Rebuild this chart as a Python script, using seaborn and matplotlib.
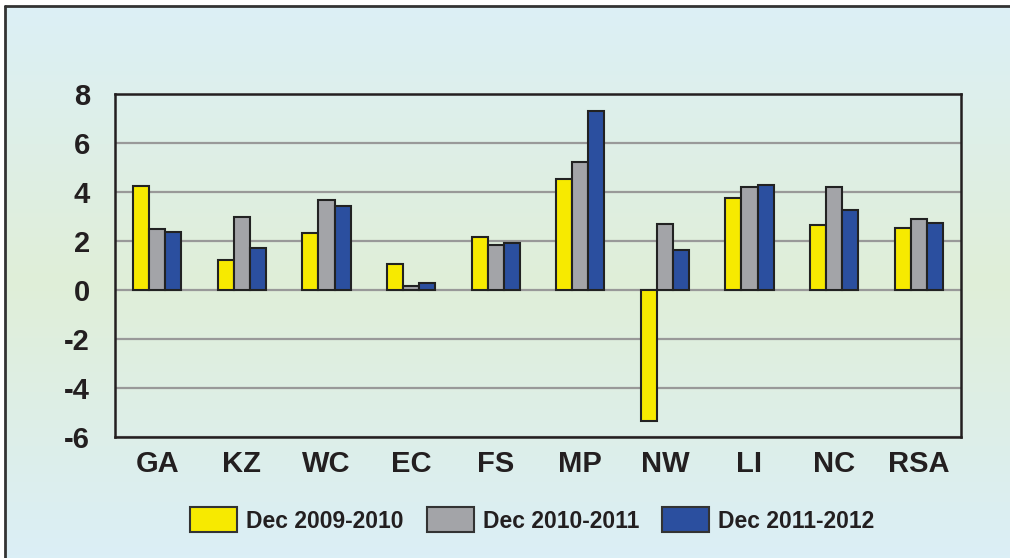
import numpy as np
import pandas as pd
import matplotlib
matplotlib.use("Agg")
import matplotlib.pyplot as plt
import seaborn as sns
from matplotlib.colors import LinearSegmentedColormap
from matplotlib.ticker import MultipleLocator, FixedLocator

categories = ["GA", "KZ", "WC", "EC", "FS", "MP", "NW", "LI", "NC", "RSA"]
series_names = ["Dec 2009-2010", "Dec 2010-2011", "Dec 2011-2012"]
s2010 = [4.26, 1.24, 2.34, 1.05, 2.18, 4.55, -5.35, 3.75, 2.65, 2.55]
s2011 = [2.50, 2.96, 3.67, 0.16, 1.82, 5.21, 2.70, 4.20, 4.20, 2.88]
s2012 = [2.36, 1.71, 3.42, 0.29, 1.92, 7.31, 1.65, 4.27, 3.27, 2.75]
yticks = [-6, -4, -2, 0, 2, 4, 6, 8]
colors = ["#f7ea00", "#a3a4a8", "#2b4f9f"]

df = pd.DataFrame({
    "region": categories * 3,
    "series": sum([[n] * len(categories) for n in series_names], []),
    "value": s2010 + s2011 + s2012,
})

sns.set_style("white")
plt.rcParams["font.family"] = ["Liberation Sans", "DejaVu Sans"]
plt.rcParams["font.weight"] = "bold"

fig = plt.figure(figsize=(10.10, 5.58), dpi=100)
fig.patch.set_facecolor("white")

# gradient background panel, drawn as a figure-level image
W, H = 1010, 558
x0, y0 = 5, 6
cmap = LinearSegmentedColormap.from_list(
    "bg", [(0.0, "#dcf0f6"), (0.5, "#e0eed8"), (1.0, "#dbeff6")])
rows = H - y0
grad = np.tile(np.linspace(0, 1, rows).reshape(-1, 1), (1, W - x0))
fig.figimage(cmap(grad), xo=x0, yo=0, origin="upper", zorder=-10)
fig.add_artist(plt.Line2D([x0 / W, x0 / W], [0, 1 - y0 / H], transform=fig.transFigure,
                          color="#333333", lw=2))
fig.add_artist(plt.Line2D([x0 / W, 1], [1 - y0 / H, 1 - y0 / H], transform=fig.transFigure,
                          color="#333333", lw=2))

ax = fig.add_axes([115 / 1010, 1 - 437 / 558, (961 - 115) / 1010, (437 - 94) / 558])
ax.patch.set_alpha(0)

sns.barplot(data=df, x="region", y="value", hue="series", order=categories,
            hue_order=series_names, palette=colors, width=0.57, gap=0,
            edgecolor="#222222", linewidth=1.5, saturation=1, ax=ax, zorder=3)

ax.set_xlim(-0.5, len(categories) - 0.5)
ax.set_ylim(-6, 8)
ax.set_yticks(yticks)
ax.set_yticklabels([str(t) for t in yticks], fontsize=21, fontweight="bold", color="#231f20")
ax.yaxis.set_minor_locator(MultipleLocator(1))
ax.grid(axis="y", which="major", color="#999999", lw=1.6, zorder=0)
ax.set_axisbelow(True)
ax.tick_params(axis="y", which="major", length=12, width=1.6, color="#999999", pad=6)
ax.tick_params(axis="y", which="minor", length=7, width=1.6, color="#999999")

ax.set_xticks(range(len(categories)))
ax.set_xticklabels(categories, fontsize=21, fontweight="bold", color="#231f20")
ax.xaxis.set_minor_locator(FixedLocator(np.arange(-0.5, len(categories), 1.0)))
ax.tick_params(axis="x", which="major", length=0, pad=9)
ax.tick_params(axis="x", which="minor", length=10, width=1.6, color="#999999", direction="inout")

for sp in ax.spines.values():
    sp.set_visible(True)
    sp.set_color("#231f20")
    sp.set_linewidth(1.8)

ax.set_xlabel("")
ax.set_ylabel("")

ax.legend_.remove()
handles = [plt.Rectangle((0, 0), 1, 1, facecolor=c, edgecolor="#333333", lw=1.5) for c in colors]
fig.legend(handles, series_names, loc="center", bbox_to_anchor=(0.527, 0.068), ncol=3,
           frameon=False, prop={"weight": "bold", "size": 16.5}, handlelength=2.05,
           handleheight=1.3, handletextpad=0.4, columnspacing=1.0, labelcolor="#231f20")

fig.savefig("out.png", dpi=100)
